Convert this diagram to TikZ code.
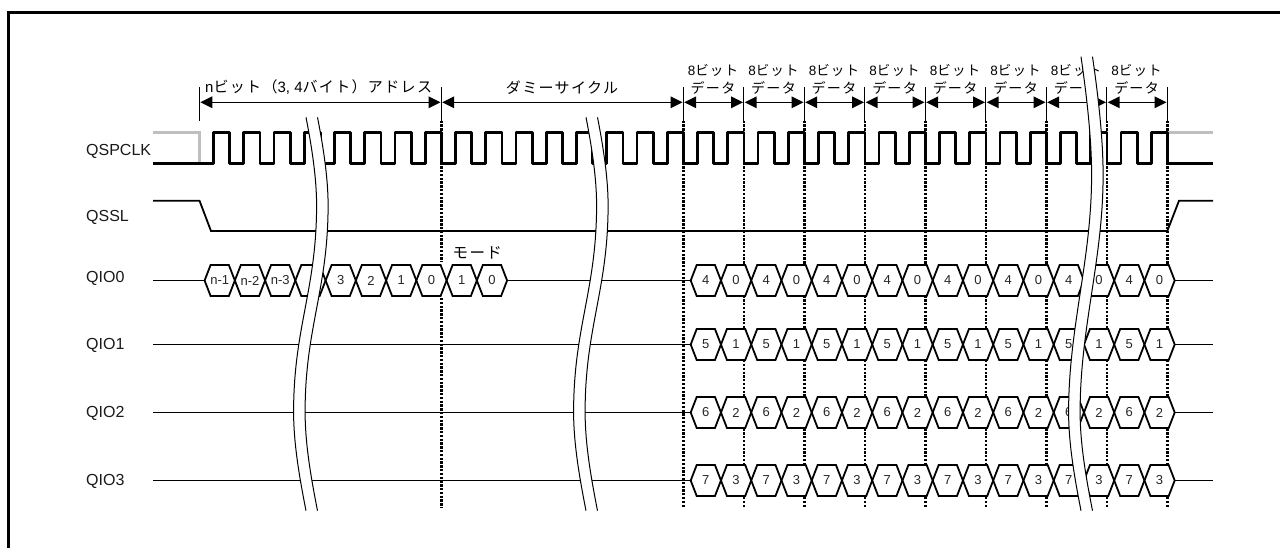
\documentclass[tikz,border=0pt]{standalone}
\usepackage{fontspec}
\setmainfont{Liberation Sans}
\newfontfamily\jp[LetterSpace=9]{Noto Sans CJK JP}
\usetikzlibrary{arrows.meta,calc}
\newcommand{\jpsize}{\fontsize{14}{16}\selectfont}
\tikzset{
  sig/.style={line width=1.8pt,line join=miter},
  thin sig/.style={line width=1.5pt},
  clk/.style={line width=2.9pt,line join=round},
  clkgray/.style={line width=2.6pt,color=black!25},
  grid dots/.style={line width=2.5pt,dash pattern=on 2.3pt off 1.5pt},
  dim tick/.style={line width=1pt},
  dim arrow/.style={line width=1.5pt,{Triangle[length=12pt,width=11.5pt]}-{Triangle[length=12pt,width=11.5pt]},shorten <=0.8pt,shorten >=0.8pt},
  hexline/.style={line width=1.8pt,fill=white,line join=miter},
  hexlabel/.style={font=\fontsize{13}{15}\selectfont,color=black!85,inner sep=0pt},
  siglabel/.style={font=\fontsize{16}{18}\selectfont,anchor=base west,inner sep=0pt,color=black!90},
  jplabel/.style={font=\jpsize,inner sep=0pt,color=black},
  breakfill/.style={fill=white,draw=none},
  breakedge/.style={line width=1pt},
}
% #1 x, #2 y, #3 text
\newcommand{\hexcell}[3]{%
  \draw[hexline] (#1,#2) -- ++(6,-15.5) -- ++(18.25,0) -- ++(6,15.5) -- ++(-6,15.5) -- ++(-18.25,0) -- cycle;
  \node[hexlabel] at ($(#1,#2)+(15.1,0)$) {#3};
}
% #1 x shift, #2 top y, #3 peak y
\newcommand{\breakband}[3]{%
  \begin{scope}[xshift=#1pt]
    \fill[breakfill] (306,#2) .. controls (312,{#2+0.35*(#3-#2)}) and (316.6,{#2+0.7*(#3-#2)}) .. (316.6,#3)
       .. controls (316.6,{#3+85}) and (293.6,{412-85}) .. (293.6,412)
       .. controls (293.6,445) and (300,480) .. (306,510.7)
       -- (317.5,510.7)
       .. controls (311.5,480) and (305.1,445) .. (305.1,412)
       .. controls (305.1,{412-85}) and (328.1,{#3+85}) .. (328.1,#3)
       .. controls (328.1,{#2+0.7*(#3-#2)}) and (323.5,{#2+0.35*(#3-#2)}) .. (317.5,#2) -- cycle;
    \draw[breakedge] (306,#2) .. controls (312,{#2+0.35*(#3-#2)}) and (316.6,{#2+0.7*(#3-#2)}) .. (316.6,#3)
       .. controls (316.6,{#3+85}) and (293.6,{412-85}) .. (293.6,412)
       .. controls (293.6,445) and (300,480) .. (306,510.7);
    \draw[breakedge] (317.5,#2) .. controls (323.5,{#2+0.35*(#3-#2)}) and (328.1,{#2+0.7*(#3-#2)}) .. (328.1,#3)
       .. controls (328.1,{#3+85}) and (305.1,{412-85}) .. (305.1,412)
       .. controls (305.1,445) and (311.5,480) .. (317.5,510.7);
  \end{scope}
}
\begin{document}
\begin{tikzpicture}[x=1pt,y=-1pt]
\useasboundingbox (0,0) rectangle (1280,548);
% frame
\draw[line width=3pt] (8.5,548) -- (8.5,12.5) -- (1280,12.5);

% grid positions
\coordinate (g0) at (199.5,0);
\coordinate (g1) at (441.3,0);
\foreach \n/\x in {t1/683.3,t2/743.8,t3/804.3,t4/864.8,t5/925.3,t6/985.8,t7/1046.3,t8/1106.8,t9/1167.3}{
  \coordinate (\n) at (\x,0);
}
% dotted verticals
\draw[grid dots] (441.3,120.7) -- (441.3,262);
\draw[grid dots] (441.3,298) -- (441.3,508);
\foreach \n in {t1,t2,t3,t4,t5,t6,t7,t8,t9}{
  \draw[grid dots] (\n |- 0,120.7) -- (\n |- 0,508);
}
% dimension ticks
\draw[dim tick] (199.5,87) -- (199.5,121.5);
\foreach \n in {g1,t1,t2,t3,t4,t5,t6,t7,t8,t9}{
  \draw[dim tick] (\n |- 0,87) -- (\n |- 0,121);
}
% dimension arrows
\draw[dim arrow] (199.5,102.3) -- (441.3,102.3);
\draw[dim arrow] (441.3,102.3) -- (683.3,102.3);
\foreach \a/\b in {t1/t2,t2/t3,t3/t4,t4/t5,t5/t6,t6/t7,t7/t8,t8/t9}{
  \draw[dim arrow] (\a |- 0,102.3) -- (\b |- 0,102.3);
}
% upper labels
\node[jplabel,anchor=west] (addr) at (205,87.5) {\fontsize{15}{16}\selectfont n{\jp ビット（}3, 4{\jp バイト）アドレス}};
\node[jplabel] (dummy) at (562,87.5) {\fontsize{15}{16}\selectfont\jp ダミーサイクル};
\foreach \i/\x in {0/713,1/773.5,2/834,3/894.5,4/955,5/1015.5,6/1076,7/1136.5}{
  \node[jplabel] (bits\i) at (\x,70.7) {\fontsize{13.5}{16}\selectfont 8{\jp ビット}};
  \node[jplabel] (data\i) at (\x,87.5) {\jp データ};
}
\node[jplabel] (mode) at (477.3,253) {\fontsize{15.5}{16}\selectfont\jp モード};

% signal labels
\node[siglabel] (lclk) at (86,155.1) {QSPCLK};
\node[siglabel] (lssl) at (86,221.8) {QSSL};
\node[siglabel] (l0) at (86,282.5) {QIO0};
\node[siglabel] (l1) at (86,349.3) {QIO1};
\node[siglabel] (l2) at (86,417.5) {QIO2};
\node[siglabel] (l3) at (86,485.8) {QIO3};

% clock
\draw[clkgray] (153,132.7) -- (199.5,132.7) -- (199.5,163.3);
\draw[clkgray] (1167.3,132.7) -- (1213,132.7);
\draw[clk] (153,163.3) -- (199.5,163.3)
  \foreach \i in {1,...,32}{ -- ++(14,0) -- ++(0,-30.6) -- ++(16.25,0) -- ++(0,30.6) }
  -- (1213,163.3);

% QSSL
\draw[sig] (153,200.7) -- (199.5,200.7) -- (211,231) -- (1167.3,231) -- (1179,200.7) -- (1213,200.7);

% data lines
\draw[thin sig] (153,280.5) -- (204.5,280.5);
\draw[thin sig] (508,280.5) -- (690.7,280.5);
\draw[thin sig] (1175,280.5) -- (1213,280.5);
\foreach \y in {344.5,412.5,480.5}{
  \draw[thin sig] (153,\y) -- (690.7,\y);
  \draw[thin sig] (1175,\y) -- (1213,\y);
}
% QIO0 address cells
\foreach \i/\t in {0/n-1,1/n-2,2/n-3,3/,4/3,5/2,6/1,7/0,8/1,9/0}{
  \pgfmathsetmacro{\xx}{204.6+30.25*\i}
  \hexcell{\xx}{280.5}{\t}
}
% data cells
\foreach \y/\a/\b in {280.5/4/0,344.5/5/1,412.5/6/2,480.5/7/3}{
  \foreach \i in {0,...,7}{
    \pgfmathsetmacro{\xa}{690.7+60.5*\i}
    \pgfmathsetmacro{\xb}{690.7+30.25+60.5*\i}
    \hexcell{\xa}{\y}{\a}
    \hexcell{\xb}{\y}{\b}
  }
}
% break marks
\breakband{0}{117.3}{205}
\breakband{280}{117.3}{205}
\breakband{775}{56.7}{175}
\end{tikzpicture}
\end{document}
